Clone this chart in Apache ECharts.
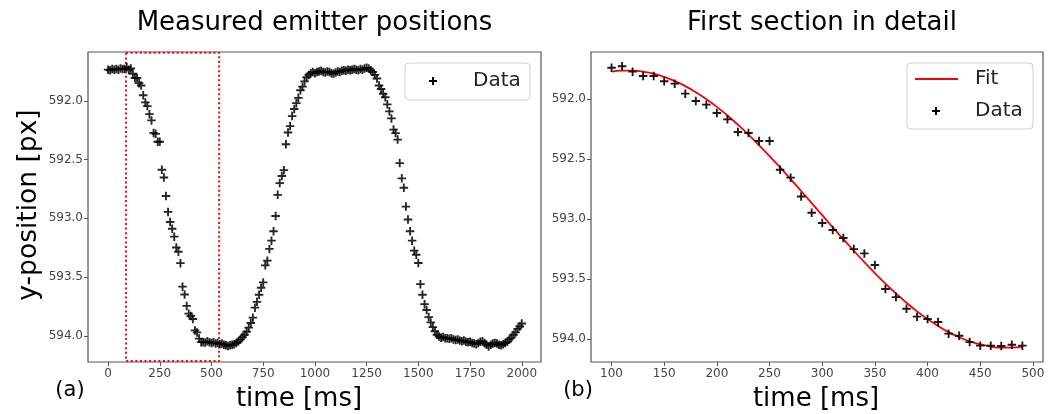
<!DOCTYPE html>
<html>
<head>
<meta charset="utf-8">
<script src="https://cdn.jsdelivr.net/npm/echarts@6/dist/echarts.min.js"></script>
<style>
html,body{margin:0;padding:0;background:#fff;}
#chart{width:1054px;height:414px;}
</style>
</head>
<body>
<div id="chart"></div>
<script>
// ---- data ----
const sampleStep = 10; // ms between measurements
const leftHeadStart = 0;
const leftHead = [591.735, 591.74, 591.73, 591.735, 591.73, 591.735, 591.725, 591.73, 591.73, 591.715];
const detailStart = 100;
const detailValues = [591.737, 591.725, 591.77, 591.806, 591.806, 591.85, 591.87, 591.953, 592.014, 592.045,
  592.114, 592.167, 592.273, 592.281, 592.348, 592.348, 592.587, 592.653, 592.81, 592.945,
  593.031, 593.089, 593.156, 593.248, 593.284, 593.381, 593.581, 593.648, 593.745, 593.811,
  593.831, 593.856, 593.953, 593.97, 594.023, 594.053, 594.053, 594.056, 594.045, 594.053];
const fitValues = [591.770, 591.761, 591.761, 591.770, 591.787, 591.813, 591.848, 591.890, 591.941, 591.999,
  592.063, 592.135, 592.212, 592.294, 592.382, 592.473, 592.568, 592.665, 592.764, 592.865,
  592.965, 593.066, 593.165, 593.262, 593.357, 593.448, 593.536, 593.618, 593.695, 593.767,
  593.831, 593.889, 593.940, 593.983, 594.017, 594.043, 594.060, 594.069, 594.069, 594.060];
const leftBottom1 = [594.06, 594.055, 594.065, 594.06, 594.07, 594.065, 594.075, 594.08, 594.085, 594.08, 594.075, 594.07, 594.06];
const leftRise = [594.048, 594.03, 594.01, 593.99, 593.965, 593.93, 593.89, 593.845, 593.76, 593.71,
  593.65, 593.59, 593.545, 593.40, 593.36, 593.26, 593.19, 593.11, 592.98, 592.80,
  592.70, 592.64, 592.59, 592.37, 592.27, 592.215, 592.13, 592.07, 592.02, 591.975,
  591.91, 591.88, 591.835, 591.80, 591.78, 591.765, 591.755];
const leftTop = [591.765, 591.755, 591.75, 591.745, 591.755, 591.76, 591.75, 591.755, 591.765, 591.77,
  591.76, 591.75, 591.755, 591.745, 591.74, 591.745, 591.735, 591.74, 591.735, 591.73,
  591.735, 591.74, 591.73, 591.735, 591.725, 591.72, 591.725, 591.74, 591.755];
const leftFall = [591.78, 591.81, 591.87, 591.90, 591.94, 591.97, 592.03, 592.09, 592.15, 592.245,
  592.275, 592.33, 592.53, 592.66, 592.74, 592.90, 593.01, 593.11, 593.19, 593.275,
  593.31, 593.38, 593.56, 593.65, 593.73, 593.78, 593.84, 593.885, 593.925, 593.96,
  593.99, 594.005, 594.015, 594.01, 594.02, 594.02];
const leftBottom2 = [594.025, 594.02, 594.03, 594.035, 594.03, 594.04, 594.045, 594.04, 594.05, 594.055,
  594.05, 594.06, 594.065, 594.07, 594.06, 594.05, 594.045, 594.06, 594.075, 594.09,
  594.075, 594.065, 594.06, 594.065, 594.075, 594.08, 594.07, 594.06, 594.05, 594.03,
  594.015, 593.99, 593.97, 593.94, 593.92, 593.895];
const zoomBoxTimes = [87, 537];          // dotted red box (ms)
const zoomBoxPositions = [591.592, 594.213];
const leftXTicks = [0, 250, 500, 750, 1000, 1250, 1500, 1750, 2000];
const rightXTicks = [100, 150, 200, 250, 300, 350, 400, 450, 500];
const yTicks = [592.0, 592.5, 593.0, 593.5, 594.0];

// ---- build series ----
const leftValues = [].concat(leftHead, detailValues, leftBottom1, leftRise, leftTop, leftFall, leftBottom2);
const leftData = leftValues.map((v, i) => [leftHeadStart + i * sampleStep, v]);
const detailData = detailValues.map((v, i) => [detailStart + i * sampleStep, v]);
const fitData = fitValues.map((v, i) => [detailStart + i * sampleStep, v]);
const boxData = [
  [zoomBoxTimes[0], zoomBoxPositions[0]], [zoomBoxTimes[0], zoomBoxPositions[1]],
  [zoomBoxTimes[1], zoomBoxPositions[1]], [zoomBoxTimes[1], zoomBoxPositions[0]],
  [zoomBoxTimes[0], zoomBoxPositions[0]]
];

const plusPath = 'path://M3.9,0H6.1V3.9H10V6.1H6.1V10H3.9V6.1H0V3.9H3.9Z';
const FONT = 'DejaVu Sans';
const tickLabel = {color: '#444', fontFamily: FONT, fontSize: 12};

function plusPoints(cx, cy, h, t) {
  return [[cx - t, cy - h], [cx + t, cy - h], [cx + t, cy - t], [cx + h, cy - t], [cx + h, cy + t], [cx + t, cy + t],
          [cx + t, cy + h], [cx - t, cy + h], [cx - t, cy + t], [cx - h, cy + t], [cx - h, cy - t], [cx - t, cy - t]];
}

function xAxisCfg(gi, min, max, ticks) {
  return {
    type: 'value', gridIndex: gi, min: min, max: max, position: 'bottom',
    axisLine: {show: false, onZero: false}, splitLine: {show: false},
    axisTick: {show: true, length: 4, lineStyle: {color: '#555', width: 1}, customValues: ticks},
    axisLabel: Object.assign({margin: 6, customValues: ticks, formatter: v => String(Math.round(v))}, tickLabel)
  };
}
function yAxisCfg(gi, min, max) {
  return {
    type: 'value', gridIndex: gi, min: min, max: max, inverse: true, position: 'left',
    axisLine: {show: false, onZero: false}, splitLine: {show: false},
    axisTick: {show: true, length: 4, lineStyle: {color: '#555', width: 1}, customValues: yTicks},
    axisLabel: Object.assign({margin: 5, customValues: yTicks, formatter: v => v.toFixed(1)}, tickLabel)
  };
}

const chart = echarts.init(document.getElementById('chart'), null, {renderer: 'canvas'});
const option = {
  backgroundColor: '#fff',
  animation: false,
  grid: [
    {left: 88, top: 52, width: 453, height: 310, show: true, borderColor: '#555', borderWidth: 1.2, backgroundColor: 'transparent'},
    {left: 591, top: 52, width: 452, height: 310, show: true, borderColor: '#555', borderWidth: 1.2, backgroundColor: 'transparent'}
  ],
  xAxis: [xAxisCfg(0, -97, 2093, leftXTicks), xAxisCfg(1, 80.5, 509.6, rightXTicks)],
  yAxis: [yAxisCfg(0, 591.585, 594.222), yAxisCfg(1, 591.606, 594.189)],
  series: [
    {
      name: 'zoom box', type: 'line', xAxisIndex: 0, yAxisIndex: 0, data: boxData,
      showSymbol: false, symbol: 'none', clip: false, silent: true, z: 3,
      lineStyle: {color: '#ff0000', width: 2, type: [2, 2.6]}
    },
    {
      name: 'Data', type: 'scatter', xAxisIndex: 0, yAxisIndex: 0, data: leftData,
      symbol: plusPath, symbolSize: 8.5, z: 4,
      itemStyle: {color: '#000', opacity: 0.85}
    },
    {
      name: 'Fit', type: 'line', xAxisIndex: 1, yAxisIndex: 1, data: fitData,
      smooth: true, showSymbol: false, symbol: 'none', z: 3,
      lineStyle: {color: '#ff0000', width: 1.8}
    },
    {
      name: 'Data', type: 'scatter', xAxisIndex: 1, yAxisIndex: 1, data: detailData,
      symbol: plusPath, symbolSize: 8.5, z: 4,
      itemStyle: {color: '#000', opacity: 0.9}
    }
  ],
  graphic: [
    // titles
    {type: 'text', x: 314.5, y: 23, style: {text: 'Measured emitter positions', fontFamily: FONT, fontSize: 26, fill: '#000', textAlign: 'center', textVerticalAlign: 'middle'}},
    {type: 'text', x: 822, y: 23, style: {text: 'First section in detail', fontFamily: FONT, fontSize: 26, fill: '#000', textAlign: 'center', textVerticalAlign: 'middle'}},
    // axis names
    {type: 'text', x: 29, y: 205, rotation: Math.PI / 2, style: {text: 'y-position [px]', fontFamily: FONT, fontSize: 26.5, fill: '#000', textAlign: 'center', textVerticalAlign: 'middle'}},
    {type: 'text', x: 299, y: 399, style: {text: 'time [ms]', fontFamily: FONT, fontSize: 26, fill: '#000', textAlign: 'center', textVerticalAlign: 'middle'}},
    {type: 'text', x: 816, y: 399, style: {text: 'time [ms]', fontFamily: FONT, fontSize: 26, fill: '#000', textAlign: 'center', textVerticalAlign: 'middle'}},
    // panel letters
    {type: 'text', x: 70, y: 391, style: {text: '(a)', fontFamily: FONT, fontSize: 21, fill: '#000', textAlign: 'center', textVerticalAlign: 'middle'}},
    {type: 'text', x: 578, y: 391, style: {text: '(b)', fontFamily: FONT, fontSize: 21, fill: '#000', textAlign: 'center', textVerticalAlign: 'middle'}},
    // left legend
    {type: 'rect', shape: {x: 405, y: 63, width: 125, height: 37, r: 4}, style: {fill: 'rgba(255,255,255,0.8)', stroke: '#d0d0d0', lineWidth: 1}, z: 10},
    {type: 'polygon', shape: {points: plusPoints(433, 81, 4, 1)}, style: {fill: '#000'}, z: 11},
    {type: 'text', x: 473, y: 81, style: {text: 'Data', fontFamily: FONT, fontSize: 20, fill: '#222', textAlign: 'left', textVerticalAlign: 'middle'}, z: 11},
    // right legend
    {type: 'rect', shape: {x: 907, y: 63, width: 126, height: 66, r: 4}, style: {fill: 'rgba(255,255,255,0.8)', stroke: '#d0d0d0', lineWidth: 1}, z: 10},
    {type: 'line', shape: {x1: 915, y1: 79, x2: 958, y2: 79}, style: {stroke: '#ff0000', lineWidth: 2}, z: 11},
    {type: 'text', x: 975, y: 79, style: {text: 'Fit', fontFamily: FONT, fontSize: 20, fill: '#222', textAlign: 'left', textVerticalAlign: 'middle'}, z: 11},
    {type: 'polygon', shape: {points: plusPoints(936, 111, 4, 1)}, style: {fill: '#000'}, z: 11},
    {type: 'text', x: 975, y: 111, style: {text: 'Data', fontFamily: FONT, fontSize: 20, fill: '#222', textAlign: 'left', textVerticalAlign: 'middle'}, z: 11}
  ]
};
chart.setOption(option);
</script>
</body>
</html>
